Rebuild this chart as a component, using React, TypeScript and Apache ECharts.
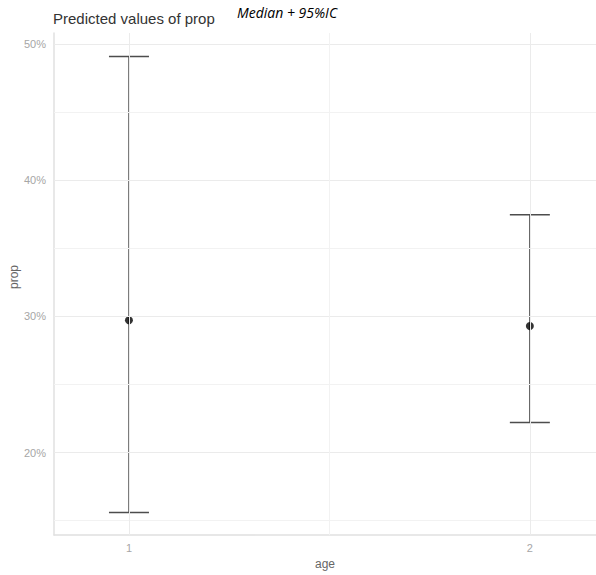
import React, { useEffect, useRef } from "react";
import * as echarts from "echarts";

const ages = [1, 2];
const medians = [29.71, 29.28];
const lowerCI = [15.6, 22.2];
const upperCI = [49.06, 37.45];
const yTickValues = [20, 30, 40, 50];
const yMinorValues = [15, 25, 35, 45];
const xTickValues = [1, 2];
const xMinorValues = [1.5];

export default function App() {
  const ref = useRef<HTMLDivElement>(null);
  useEffect(() => {
    if (!ref.current) return;
    const chart = echarts.init(ref.current, null, { renderer: "svg", width: 596, height: 575 });
    const font = "Liberation Sans, Arial, sans-serif";
    const gridData: any[] = [
      ...yMinorValues.map((v) => ({ yAxis: v, lineStyle: { color: "#f2f2f2", width: 1, type: "solid" } })),
      ...yTickValues.map((v) => ({ yAxis: v, lineStyle: { color: "#ebebeb", width: 1, type: "solid" } })),
      ...xMinorValues.map((v) => ({ xAxis: v, lineStyle: { color: "#f2f2f2", width: 1, type: "solid" } })),
      ...xTickValues.map((v) => ({ xAxis: v, lineStyle: { color: "#ebebeb", width: 1, type: "solid" } })),
    ];
    chart.setOption({
      animation: false,
      backgroundColor: "#ffffff",
      grid: { left: 54, top: 33, width: 542, height: 510, containLabel: false },
      xAxis: {
        type: "value",
        min: 0.813,
        max: 2.165,
        splitLine: { show: false },
        axisTick: { show: false },
        axisLine: { show: true, lineStyle: { color: "#e0e0e0", width: 1.5 } },
        axisLabel: {
          customValues: xTickValues,
          color: "#a6a6a6",
          fontSize: 11,
          fontFamily: font,
          margin: 7,
        },
        name: "age",
        nameLocation: "middle",
        nameGap: 19,
        nameTextStyle: { color: "#666666", fontSize: 12, fontFamily: font },
      },
      yAxis: {
        type: "value",
        min: 13.94,
        max: 50.79,
        splitLine: { show: false },
        axisTick: { show: false },
        axisLine: { show: true, lineStyle: { color: "#e0e0e0", width: 1.5 } },
        axisLabel: {
          customValues: yTickValues,
          formatter: (v: number) => `${Math.round(v)}%`,
          color: "#a6a6a6",
          fontSize: 11,
          fontFamily: font,
          margin: 8,
        },
      },
      graphic: [
        {
          type: "text",
          left: 53,
          top: 11,
          style: { text: "Predicted values of prop", fontSize: 15, fontFamily: font, fill: "#333333" },
        },
        {
          type: "text",
          left: 237,
          top: 5,
          style: {
            text: "Median + 95%IC",
            fontSize: 14,
            fontStyle: "italic",
            fontFamily: "Open Sans, sans-serif",
            fill: "#000000",
          },
        },
        {
          type: "text",
          x: 14,
          y: 277,
          rotation: Math.PI / 2,
          style: {
            text: "prop",
            fontSize: 12,
            fontFamily: font,
            fill: "#666666",
            align: "center",
            verticalAlign: "middle",
          },
        },
      ],
      series: [
        {
          type: "line",
          data: [],
          z: 1,
          silent: true,
          markLine: {
            silent: true,
            symbol: ["none", "none"],
            label: { show: false },
            animation: false,
            data: gridData,
          },
        },
        {
          type: "custom",
          z: 3,
          data: ages.map((a, i) => [a, lowerCI[i], upperCI[i]]),
          renderItem: (params: any, api: any) => {
            const x = api.value(0);
            const lo = api.coord([x, api.value(1)]);
            const hi = api.coord([x, api.value(2)]);
            const half = 20;
            const style = { stroke: "#4d4d4d", lineWidth: 1.4 };
            return {
              type: "group",
              children: [
                { type: "line", shape: { x1: lo[0], y1: lo[1], x2: hi[0], y2: hi[1] }, style },
                { type: "line", shape: { x1: hi[0] - half, y1: hi[1], x2: hi[0] + half, y2: hi[1] }, style },
                { type: "line", shape: { x1: lo[0] - half, y1: lo[1], x2: lo[0] + half, y2: lo[1] }, style },
              ],
            };
          },
        },
        {
          type: "scatter",
          z: 4,
          symbol: "circle",
          symbolSize: 8,
          itemStyle: { color: "#000000" },
          data: ages.map((a, i) => [a, medians[i]]),
        },
      ],
    });
    return () => chart.dispose();
  }, []);
  return (
    <div
      ref={ref}
      style={{ position: "fixed", left: 0, top: 0, width: 596, height: 575 }}
    />
  );
}
